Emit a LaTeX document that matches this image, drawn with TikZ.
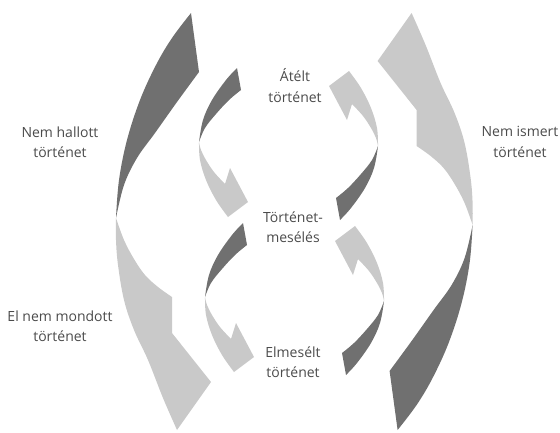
\documentclass[tikz,border=0pt]{standalone}
\usepackage{fontspec}
\setmainfont{Open Sans}
\definecolor{dk}{RGB}{112,112,112}
\definecolor{lt}{RGB}{201,201,201}
\definecolor{txt}{RGB}{75,75,75}
\begin{document}
\begin{tikzpicture}[x=1pt,y=-1pt,
  lbl/.style={align=center, text=txt, font=\fontsize{14}{20.5}\selectfont, inner sep=0pt},
  rib/.style={smooth, tension=0.6}]
\useasboundingbox (0,0) rectangle (560,432);
\newcommand\BigRibbon{%
  \fill[dk] plot[rib] coordinates {(191,13) (172,38) (156,65) (140,100) (127,140) (119,180) (116,218)}
    -- plot[rib] coordinates {(116,218) (124,185) (137,158) (155,133) (177,102) (199,72)} -- cycle;
  \fill[lt] plot[rib] coordinates {(116,218) (116,240) (118,265) (124,300) (134,330) (148,360) (163,398) (177,430)}
    -- (211,382) -- (172,333)
    -- plot[rib] coordinates {(172,297) (158,287) (145,275) (134,259) (124,240) (116,218)} -- cycle;
}
\newcommand\SmallRibbon{%
  \fill[dk] plot[rib] coordinates {(237,68) (226,80) (212,100) (203,120) (199,142)}
    -- plot[rib] coordinates {(199,142) (205,128) (216,114) (229,100) (241,90)} -- cycle;
  \fill[lt] plot[rib] coordinates {(199,142) (200,160) (206,180) (216,200) (228,217)}
    -- (248,202) -- (230,168)
    -- plot[rib] coordinates {(225,184) (214,172) (206,160) (201,150) (199,142)} -- cycle;
}
% big ribbons
\BigRibbon
\begin{scope}[rotate around={180:(294.3,221.5)}]\BigRibbon\end{scope}
% small ribbons
\SmallRibbon
\begin{scope}[shift={(6,155)}]\SmallRibbon\end{scope}
\begin{scope}[rotate around={180:(291.5,221.5)}]
  \SmallRibbon
  \begin{scope}[shift={(6,155)}]\SmallRibbon\end{scope}
\end{scope}
% labels
\node[lbl] (atelt) at (295,85.5) {Átélt\\történet};
\node[lbl] (mese) at (293,227) {Történet-\\mesélés};
\node[lbl] (elmes) at (293,362) {Elmesélt\\történet};
\node[lbl] (hallott) at (60,142) {Nem hallott\\történet};
\node[lbl] (mondott) at (60,326) {El nem mondott\\történet};
\node[lbl] (ismert) at (520,142) {Nem ismert\\történet};
\end{tikzpicture}
\end{document}
